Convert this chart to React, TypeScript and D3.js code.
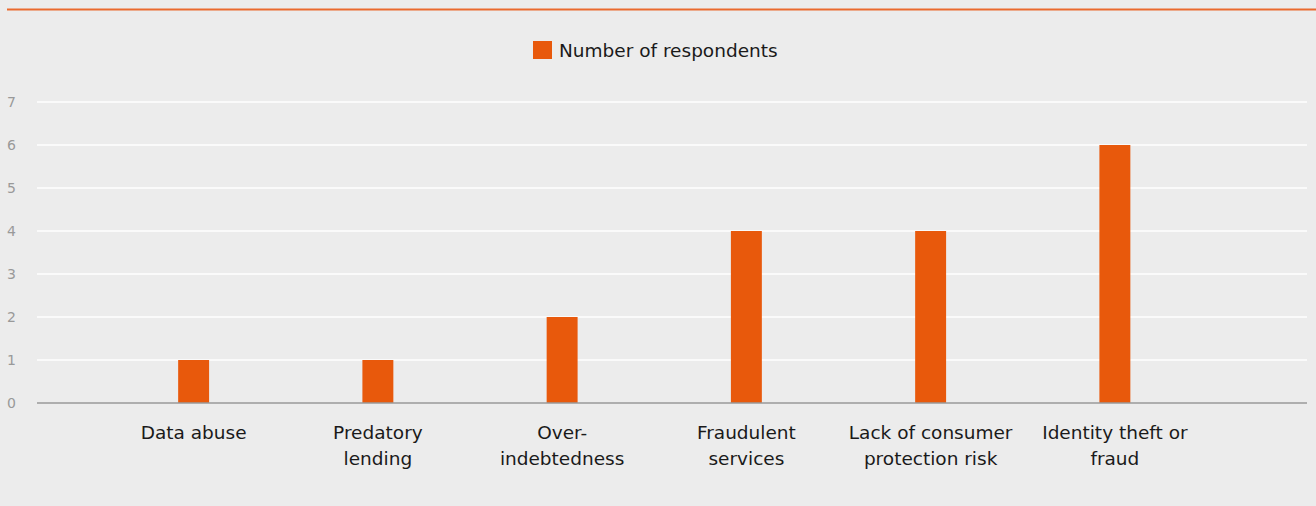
import React from "react";
import * as d3 from "d3";

const categories: string[][] = [
  ["Data abuse"],
  ["Predatory", "lending"],
  ["Over-", "indebtedness"],
  ["Fraudulent", "services"],
  ["Lack of consumer", "protection risk"],
  ["Identity theft or", "fraud"],
];
const categoryKeys = ["Data abuse", "Predatory lending", "Over-indebtedness", "Fraudulent services", "Lack of consumer protection risk", "Identity theft or fraud"];
const values = [1, 1, 2, 4, 4, 6];
const yTicks = [0, 1, 2, 3, 4, 5, 6, 7];
const seriesName = "Number of respondents";

const W = 1316;
const H = 506;
const FONT = "'DejaVu Sans', sans-serif";

export default function App() {
  const x = d3.scaleBand<string>().domain(categoryKeys).range([101.5, 1207]).paddingInner(0.832).paddingOuter(0.416);
  const y = d3.scaleLinear().domain([0, 7]).range([403, 102]);
  const axisX0 = 37;
  const axisX1 = 1307;
  return (
    <svg width={W} height={H} style={{ position: "fixed", left: 0, top: 0, background: "#ececec" }}>
      <rect x={0} y={0} width={W} height={H} fill="#ececec" />
      <line x1={7} x2={W} y1={9.5} y2={9.5} stroke="#ea6a2e" strokeWidth={2.2} />
      <rect x={533} y={41} width={19} height={18} fill="#e8590c" />
      <text x={559} y={57} fontFamily={FONT} fontSize={18.5} fill="#1a1a1a">{seriesName}</text>
      {yTicks.map((t) => (
        <g key={t}>
          {t > 0 && <line x1={axisX0} x2={axisX1} y1={y(t)} y2={y(t)} stroke="#ffffff" strokeWidth={1.5} />}
          <text x={7} y={y(t) + 5} fontFamily={FONT} fontSize={14} fill="#999999">{t}</text>
        </g>
      ))}
      {categoryKeys.map((c, i) => (
        <rect key={c} x={x(c)} y={y(values[i])} width={x.bandwidth()} height={y(0) - y(values[i])} fill="#e8590c" />
      ))}
      <line x1={axisX0} x2={axisX1} y1={y(0)} y2={y(0)} stroke="#9a9a9a" strokeWidth={1.5} />
      {categoryKeys.map((c, i) => (
        <text key={c} textAnchor="middle" fontFamily={FONT} fontSize={18.5} fill="#1a1a1a">
          {categories[i].map((line, j) => (
            <tspan key={j} x={(x(c) as number) + x.bandwidth() / 2} y={439 + j * 26}>{line}</tspan>
          ))}
        </text>
      ))}
    </svg>
  );
}
